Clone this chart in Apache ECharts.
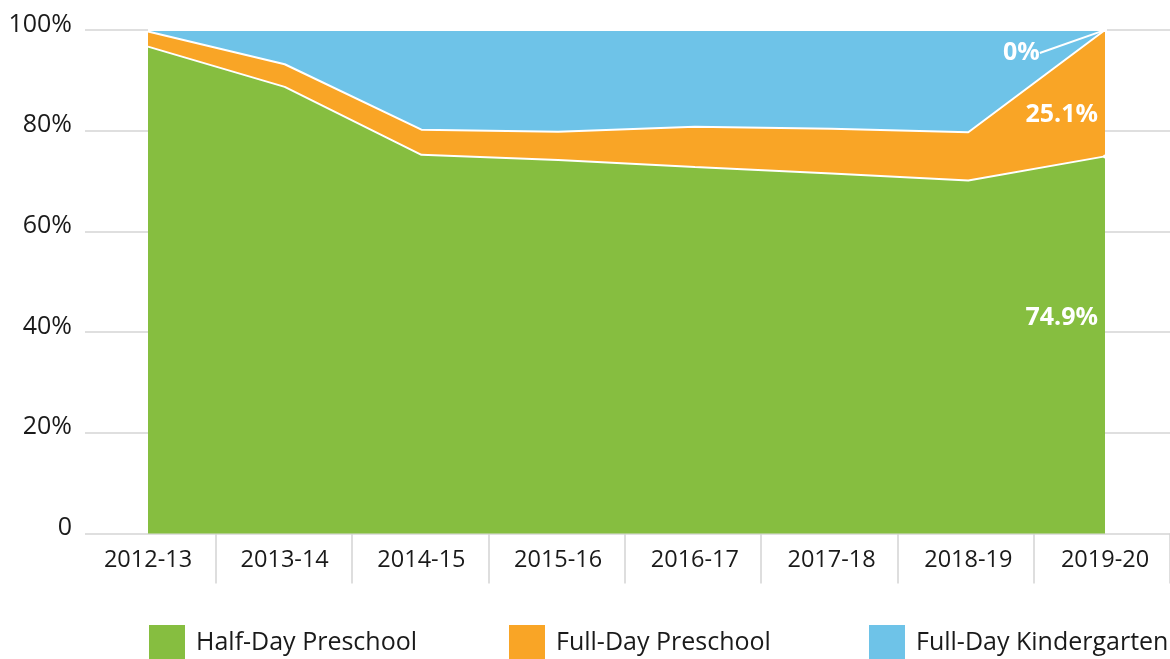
<!DOCTYPE html>
<html>
<head>
<meta charset="utf-8">
<script src="https://cdn.jsdelivr.net/npm/echarts@6/dist/echarts.min.js"></script>
<style>
  html, body { margin: 0; padding: 0; background: #fff; }
  #main { width: 1170px; height: 659px; }
</style>
</head>
<body>
<div id="main"></div>
<script>
// 数据
var years = ['2012-13', '2013-14', '2014-15', '2015-16', '2016-17', '2017-18', '2018-19', '2019-20'];
var halfDayPre = [96.7, 88.7, 75.2, 74.2, 72.8, 71.5, 70.1, 74.9];
var fullDayPre = [3.0, 4.5, 5.0, 5.6, 8.0, 8.9, 9.6, 25.1];
var fullDayKinder = [0.3, 6.8, 19.8, 20.2, 19.2, 19.6, 20.3, 0];
var yTicks = [0, 20, 40, 60, 80, 100];

var font = 'Open Sans';
var gridColor = '#d4d4d4';
var lastIdx = years.length - 1;

var myChart = echarts.init(document.getElementById('main'));

// 只在最后一个点显示标签
function lastLabel(arr, extra) {
    return arr.map(function (v, i) {
        if (i !== lastIdx) return v;
        // 最后一个点给一个白色小符号(落在白色边线上), 引导线才能找到锚点
        return {
            value: v, symbolSize: 2, itemStyle: { color: '#fff', borderWidth: 0 },
            label: Object.assign({ show: true }, extra)
        };
    });
}

var labelBase = {
    position: 'left',
    distance: 5,
    color: '#fff',
    fontFamily: font,
    fontWeight: 'bold',
    fontSize: 25,
    formatter: function (p) { return p.value + '%'; }
};

var option = {
    animation: false,
    grid: [
        { left: 148, right: 65, top: 30, bottom: 125.5 },
        { left: 85, right: 0, top: 30, bottom: 125.5 },
        { left: 79.65, right: -3.35, top: 30, bottom: 125.5 }
    ],
    legend: [
        { data: ['Half-Day Preschool'], left: 149 },
        { data: ['Full-Day Preschool'], left: 509 },
        { data: ['Full-Day Kindergarten'], left: 869 }
    ].map(function (l) {
        return Object.assign({
            top: 625, padding: 0, icon: 'rect', itemWidth: 36, itemHeight: 36,
            selectedMode: false,
            textStyle: { fontFamily: font, fontSize: 25, color: '#1a1a1a', padding: [0, 0, 0, 6] }
        }, l);
    }),
    xAxis: [
        {
            gridIndex: 0, type: 'category', data: years, boundaryGap: false,
            axisLine: { show: false }, axisTick: { show: false },
            axisLabel: { margin: 15, fontFamily: font, fontSize: 23.5, color: '#1a1a1a' }
        },
        { gridIndex: 1, type: 'value', show: false },
        {
            gridIndex: 2, type: 'category', data: years, boundaryGap: true,
            axisLine: { show: false }, axisLabel: { show: false }, offset: 3.5,
            axisTick: {
                show: true, length: 50,
                interval: function (i) { return i > 0; },
                lineStyle: { color: gridColor, width: 1.5 }
            }
        }
    ],
    yAxis: [
        { gridIndex: 0, type: 'value', min: 0, max: 100, show: false },
        {
            gridIndex: 1, type: 'value', min: 0, max: 100, interval: 20,
            axisLine: { show: false }, axisTick: { show: false },
            splitLine: { lineStyle: { color: gridColor, width: 1.5 } },
            axisLabel: {
                margin: 13, fontFamily: font, fontSize: 25, color: '#1a1a1a',
                verticalAlign: 'bottom', lineHeight: 11,
                formatter: function (v) { return v === 0 ? '0' : v + '%'; }
            }
        },
        { gridIndex: 2, type: 'value', show: false }
    ],
    series: [
        {
            name: 'Half-Day Preschool', type: 'line', stack: 'total',
            data: lastLabel(halfDayPre, Object.assign({}, labelBase, { offset: [0, 161] })),
            symbolSize: 0, itemStyle: { color: '#86be40' },
            lineStyle: { color: '#fff', width: 2 },
            areaStyle: { color: '#86be40', opacity: 1 }
        },
        {
            name: 'Full-Day Preschool', type: 'line', stack: 'total',
            data: lastLabel(fullDayPre, Object.assign({}, labelBase, { offset: [0, 85] })),
            symbolSize: 0, itemStyle: { color: '#f9a526' },
            lineStyle: { color: '#fff', width: 2 },
            areaStyle: { color: '#f9a526', opacity: 1 }
        },
        {
            name: 'Full-Day Kindergarten', type: 'line', stack: 'total',
            data: lastLabel(fullDayKinder, Object.assign({}, labelBase, {
                position: 'right', distance: 5, padding: [0, 6, 0, 0]
            })),
            symbolSize: 0, itemStyle: { color: '#6ec3e8' },
            lineStyle: { color: '#fff', width: 2 },
            areaStyle: { color: '#6ec3e8', opacity: 1 },
            labelLine: { show: true, length2: 0, lineStyle: { color: '#fff', width: 2 } },
            labelLayout: { dx: -109, dy: 23 }
        }
    ]
};

myChart.setOption(option);
</script>
</body>
</html>
